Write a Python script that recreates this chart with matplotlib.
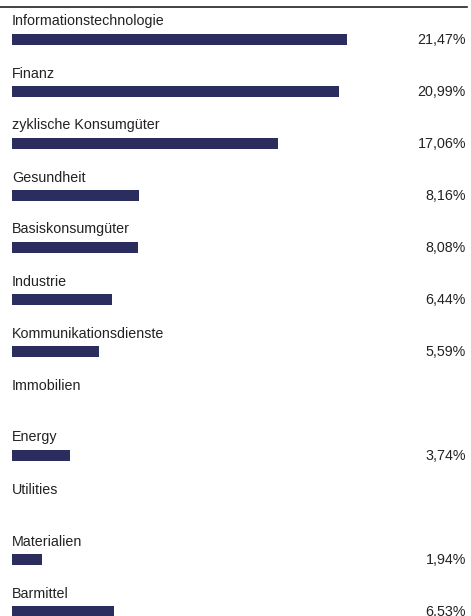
import numpy as np
import matplotlib.pyplot as plt

plt.rcParams["font.family"] = ["Liberation Sans", "DejaVu Sans"]

sectors = [
    "Informationstechnologie",
    "Finanz",
    "zyklische Konsumgüter",
    "Gesundheit",
    "Basiskonsumgüter",
    "Industrie",
    "Kommunikationsdienste",
    "Immobilien",
    "Energy",
    "Utilities",
    "Materialien",
    "Barmittel",
]
weights = [21.47, 20.99, 17.06, 8.16, 8.08, 6.44, 5.59, None, 3.74, None, 1.94, 6.53]

W, H = 471, 616
fig = plt.figure(figsize=(W / 100, H / 100), dpi=100)
ax = fig.add_axes([0, 0, 1, 1])

px_per_pct = 15.6
x0 = 12
row_h = 52
y0 = 39.5

ax.set_xlim(-x0 / px_per_pct, (W - x0) / px_per_pct)
ax.set_ylim((H - y0) / row_h, -y0 / row_h)
ax.axis("off")

bar_color = "#2c2d5f"
for i, (name, val) in enumerate(zip(sectors, weights)):
    ax.text(0, i - 18 / row_h, name, ha="left", va="center", fontsize=10.3, color="#222222")
    if val is None:
        continue
    ax.barh(i, val, height=11 / row_h, left=0, color=bar_color)
    ax.text((466 - x0) / px_per_pct, i, f"{val:.2f}%".replace(".", ","),
            ha="right", va="center", fontsize=10.3, color="#222222")

# top rule
ax.plot([-x0 / px_per_pct, (467 - x0) / px_per_pct], [(7 - y0) / row_h] * 2,
        color="#222222", lw=1.2, clip_on=False)

fig.savefig("out.png", dpi=100)
